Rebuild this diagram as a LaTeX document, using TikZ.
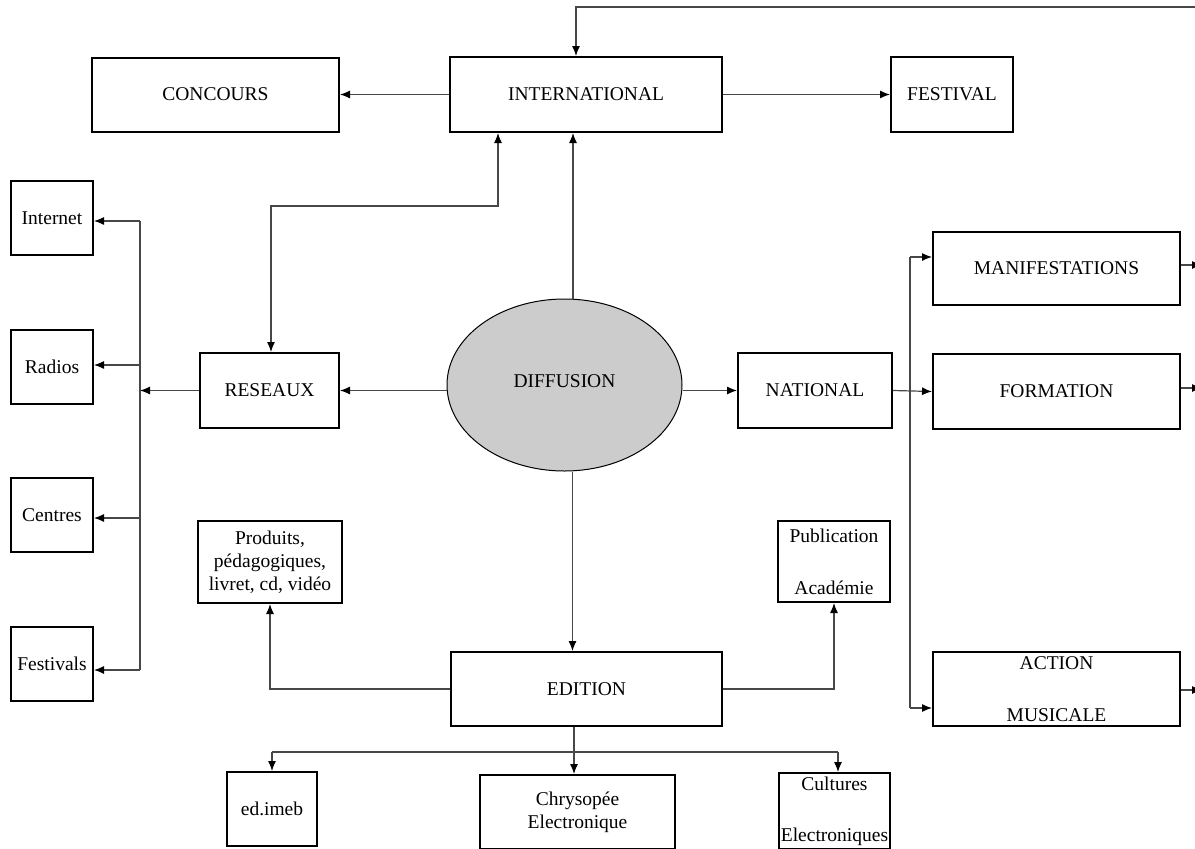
\documentclass[tikz,border=0pt]{standalone}
\usepackage{fontspec}
\setmainfont{Liberation Serif}
\usetikzlibrary{shapes.geometric,arrows.meta}
\begin{document}
\begin{tikzpicture}[x=1pt,y=-1pt,
  box/.style={draw=black,line width=2pt,inner sep=0pt,align=center,
    font=\fontsize{19.5}{23}\selectfont},
  wire/.style={line width=1.2pt,draw=black!72},
  conn/.style={wire,-{Latex[length=10pt,width=8pt,color=black]}},
  both/.style={wire,{Latex[length=10pt,width=8pt,color=black]}-{Latex[length=10pt,width=8pt,color=black]}}
]
\useasboundingbox (0,0) rectangle (1195,849);

% top row
\node[box,minimum width=247pt,minimum height=74pt] (concours) at (215.5,94.5) {CONCOURS};
\node[box,minimum width=272pt,minimum height=75pt] (inter) at (586,94.5) {INTERNATIONAL};
\node[box,minimum width=122pt,minimum height=75pt] (festival) at (952,94.5) {FESTIVAL};

% left column
\node[box,minimum width=82pt,minimum height=74pt] (internet) at (52,218) {Internet};
\node[box,minimum width=82pt,minimum height=74pt] (radios) at (52,366.5) {Radios};
\node[box,minimum width=82pt,minimum height=74pt] (centres) at (52,515) {Centres};
\node[box,minimum width=82pt,minimum height=74pt] (festivals) at (52,664) {Festivals};

% middle row
\node[box,minimum width=139pt,minimum height=75pt] (reseaux) at (269.5,390.5) {RESEAUX};
\node[draw=black,line width=1pt,fill=black!20,ellipse,inner sep=0pt,
  minimum width=235pt,minimum height=172pt,font=\fontsize{19.5}{23}\selectfont] (diff) at (564.5,385) {\raisebox{8pt}{DIFFUSION}};
\node[box,minimum width=154pt,minimum height=75pt] (national) at (815,390.5) {NATIONAL};

% right column
\node[box,minimum width=247pt,minimum height=73pt] (manif) at (1056.5,268.5) {MANIFESTATIONS};
\node[box,minimum width=247pt,minimum height=75pt] (formation) at (1056.5,391.5) {FORMATION};
\node[box,minimum width=247pt,minimum height=74pt] (action) at (1056.5,689) {ACTION\\[29pt]MUSICALE};

% edition level
\node[box,minimum width=144pt,minimum height=82pt] (produits) at (270,562) {Produits,\\p\'edagogiques,\\livret, cd, vid\'eo};
\node[box,minimum width=112pt,minimum height=81pt] (publi) at (834,561.5) {Publication\\[29pt]Acad\'emie};
\node[box,minimum width=271pt,minimum height=74pt] (edition) at (586.5,689) {EDITION};

% bottom row
\node[box,minimum width=90pt,minimum height=74pt] (imeb) at (272,809) {ed.imeb};
\node[box,minimum width=195pt,minimum height=74pt] (chrys) at (577.5,812) {Chrysop\'ee\\Electronique};
\node[box,minimum width=111pt,minimum height=76pt] (cult) at (834.5,811) {Cultures\\[28pt]Electroniques};

% junction coordinates
\coordinate (tr) at (1195,7);
\coordinate (rj) at (498,206);
\coordinate (lt) at (140,391);
\coordinate (rt) at (910,390);
\coordinate (bj) at (574,752);
\coordinate (m1) at (1202,265);
\coordinate (m2) at (1202,388);
\coordinate (m3) at (1202,690);

% top feedback line
\draw[conn] (tr) -| ([xshift=-10pt]inter.north);

% international
\draw[conn] (inter.west) -- (concours.east);
\draw[conn] (inter.east) -- (festival.west);

% diffusion
\draw[conn] ([xshift=8.5pt]diff.north) -- ([xshift=8.5pt]diff.north |- inter.south);
\draw[conn] ([xshift=8pt]diff.south) -- ([xshift=8pt]diff.south |- edition.north);
\draw[conn] (diff.west |- reseaux.east) -- (reseaux.east);
\draw[conn] (diff.east |- national.west) -- (national.west);

% reseaux <-> international
\draw[both] ([xshift=1.5pt]reseaux.north) |- (rj) -- (rj |- inter.south);

% reseaux -> left trunk
\draw[conn] (reseaux.west) -- (lt |- reseaux.west);
\draw[wire] ([yshift=-3pt]lt |- internet.east) -- ([yshift=-6pt]lt |- festivals.east);
\draw[conn] ([yshift=-3pt]lt |- internet.east) -- ([yshift=-3pt]internet.east);
\draw[conn] ([yshift=1.5pt]lt |- radios.east) -- ([yshift=1.5pt]radios.east);
\draw[conn] ([yshift=-3pt]lt |- centres.east) -- ([yshift=-3pt]centres.east);
\draw[conn] ([yshift=-6pt]lt |- festivals.east) -- ([yshift=-6pt]festivals.east);

% national -> right trunk
\draw[conn] (national.east) -- (formation.west);
\draw[wire] ([yshift=11.5pt]rt |- manif.west) -- ([yshift=-19pt]rt |- action.west);
\draw[conn] ([yshift=11.5pt]rt |- manif.west) -- ([yshift=11.5pt]manif.west);
\draw[conn] ([yshift=-19pt]rt |- action.west) -- ([yshift=-19pt]action.west);

% right exits
\draw[conn] (manif.east |- m1) -- (m1);
\draw[conn] (formation.east |- m2) -- (m2);
\draw[conn] (action.east |- m3) -- (m3);

% edition
\draw[conn] (edition.west) -| (produits.south);
\draw[conn] (edition.east) -| (publi.south);
\draw[conn] ([xshift=-12.5pt]edition.south) -- ([xshift=-12.5pt]edition.south |- chrys.north);
\draw[wire] (imeb.north |- bj) -- ([xshift=3.5pt]cult.north |- bj);
\draw[conn] (imeb.north |- bj) -- (imeb.north);
\draw[conn] ([xshift=3.5pt]cult.north |- bj) -- ([xshift=3.5pt]cult.north);
\end{tikzpicture}
\end{document}
